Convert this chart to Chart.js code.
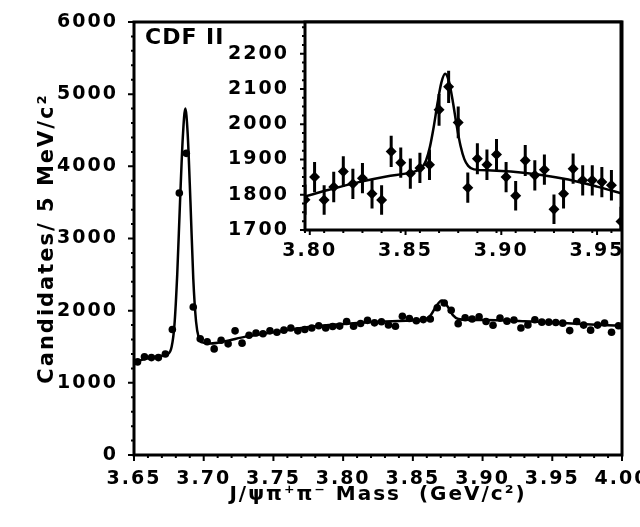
<!DOCTYPE html>
<html><head><meta charset="utf-8">
<script src="https://cdn.jsdelivr.net/npm/chart.js@4/dist/chart.umd.min.js"></script>
<style>
html,body{margin:0;padding:0;background:#fff;}
#wrap{position:relative;width:640px;height:527px;overflow:hidden;background:#fff;}
#wrap canvas{position:absolute;left:0;top:0;}
#cdf{position:absolute;left:145px;top:24px;font:bold 22px "DejaVu Sans";letter-spacing:1px;color:#000;line-height:26px;}
</style></head><body>
<div id="wrap">
<canvas id="mainChart" width="640" height="527"></canvas>
<canvas id="insetChart" width="640" height="527"></canvas>
<div id="cdf">CDF II</div>
</div>
<script>
// ---- main histogram (5 MeV/c^2 bins) ----
const massBins = [3.6525,3.6575,3.6625,3.6675,3.6725,3.6775,3.6825,3.6875,3.6925,3.6975,
  3.7025,3.7075,3.7125,3.7175,3.7225,3.7275,3.7325,3.7375,3.7425,3.7475,
  3.7525,3.7575,3.7625,3.7675,3.7725,3.7775,3.7825,3.7875,3.7925,3.7975,
  3.8025,3.8075,3.8125,3.8175,3.8225,3.8275,3.8325,3.8375,3.8425,3.8475,
  3.8525,3.8575,3.8625,3.8675,3.8725,3.8775,3.8825,3.8875,3.8925,3.8975,
  3.9025,3.9075,3.9125,3.9175,3.9225,3.9275,3.9325,3.9375,3.9425,3.9475,
  3.9525,3.9575,3.9625,3.9675,3.9725,3.9775,3.9825,3.9875,3.9925,3.9975];
const candidates = [1290,1360,1350,1350,1400,1740,3630,4180,2050,1610,
  1570,1470,1590,1540,1720,1550,1660,1690,1680,1720,
  1700,1730,1760,1720,1740,1760,1790,1760,1780,1786,
  1850,1785,1822,1866,1831,1847,1803,1785,1923,1891,
  1860,1876,1885,2041,2106,2005,1820,1902,1885,1914,
  1850,1797,1897,1855,1871,1759,1803,1874,1841,1841,
  1836,1827,1724,1850,1800,1730,1800,1830,1700,1790];
const fitMass = [3.650,3.655,3.660,3.665,3.670,3.674,3.677,3.679,3.681,3.683,3.685,3.6868,3.6885,
  3.6905,3.6925,3.6945,3.6965,3.699,3.705,3.715,3.730,3.750,3.770,3.790,3.810,3.830,3.850,
  3.8587,3.8627,3.8667,3.8707,3.8747,3.8787,3.8827,3.890,3.910,3.930,3.950,3.970,3.985,4.000];
const fitValues = [1280,1315,1340,1360,1375,1395,1500,1800,2500,3500,4400,4800,4450,
  3500,2450,1850,1620,1560,1545,1575,1640,1700,1760,1800,1830,1850,1865,
  1878,1935,2060,2140,2064,1939,1885,1872,1868,1855,1838,1815,1800,1790];

// ---- inset (zoom on X(3872)) ----
const insetMass = [3.7975,3.8025,3.8075,3.8125,3.8175,3.8225,3.8275,3.8325,3.8375,3.8425,
  3.8475,3.8525,3.8575,3.8625,3.8675,3.8725,3.8775,3.8825,3.8875,3.8925,
  3.8975,3.9025,3.9075,3.9125,3.9175,3.9225,3.9275,3.9325,3.9375,3.9425,
  3.9475,3.9525,3.9575,3.9625];
const insetCounts = [1786,1850,1785,1822,1866,1831,1847,1803,1785,1923,
  1891,1860,1876,1885,2041,2106,2005,1820,1902,1885,
  1914,1850,1797,1897,1855,1871,1759,1803,1874,1841,
  1841,1836,1827,1724];
const insetErrors = [43,43,42,43,43,43,43,42,42,44,
  43,43,43,43,45,46,45,43,44,43,
  44,43,42,44,43,43,42,42,43,43,
  43,43,43,42];
const insetFitMass = [3.7975,3.810,3.825,3.840,3.852,3.8557,3.8587,3.8607,3.8627,3.8647,3.8667,
  3.8687,3.8707,3.8727,3.8747,3.8767,3.8787,3.8807,3.8827,3.8857,3.895,3.905,3.920,3.935,3.950,3.9625];
const insetFitValues = [1795,1814,1835,1852,1862,1868,1878,1897,1935,1992,2060,
  2118,2143,2120,2064,1996,1939,1901,1882,1872,1869,1866,1857,1843,1823,1804];

// ---- tick labels ----
const mainXTicks = [3.65,3.70,3.75,3.80,3.85,3.90,3.95,4.00];
const mainXLabels = ['3.65','3.70','3.75','3.80','3.85','3.90','3.95','4.00'];
const mainYTicks = [0,1000,2000,3000,4000,5000,6000];
const mainYLabels = ['0','1000','2000','3000','4000','5000','6000'];
const insetXTicks = [3.80,3.85,3.90,3.95];
const insetXLabels = ['3.80','3.85','3.90','3.95'];
const insetYTicks = [1700,1800,1900,2000,2100,2200];
const insetYLabels = ['1700','1800','1900','2000','2100','2200'];

const FONT = '"DejaVu Sans", "Liberation Sans", sans-serif';
const toXY = (xs, ys) => xs.map((x, i) => ({x: x, y: ys[i]}));
const labelFor = (ticks, labels) => v => {
  const i = ticks.findIndex(t => Math.abs(t - v) < 1e-6);
  return i >= 0 ? labels[i] : '';
};

// wider lettering, like the stretched bold face of the original
const spacing = {
  id: 'spacing',
  beforeDraw(chart) { chart.ctx.letterSpacing = '2px'; }
};

function frameAndTicks(opts) {
  return {
    id: 'frameTicks',
    afterDraw(chart) {
      const {ctx, chartArea: a, scales} = chart;
      const xs = scales.x, ys = scales.y;
      ctx.save();
      ctx.strokeStyle = '#000';
      ctx.lineWidth = 2;
      ctx.beginPath();
      for (let v = xs.min; v <= xs.max + 1e-9; v += opts.xMinor) {
        const px = xs.getPixelForValue(v);
        ctx.moveTo(px, a.bottom); ctx.lineTo(px, a.bottom + opts.minorLen);
      }
      opts.xMajor.forEach(v => {
        const px = xs.getPixelForValue(v);
        ctx.moveTo(px, a.bottom); ctx.lineTo(px, a.bottom + opts.majorLen);
      });
      const y0 = Math.ceil(ys.min / opts.yMinor) * opts.yMinor;
      for (let v = y0; v <= ys.max + 1e-9; v += opts.yMinor) {
        const py = ys.getPixelForValue(v);
        ctx.moveTo(a.left, py); ctx.lineTo(a.left - opts.minorLen, py);
      }
      opts.yMajor.forEach(v => {
        const py = ys.getPixelForValue(v);
        ctx.moveTo(a.left, py); ctx.lineTo(a.left - opts.majorLen, py);
      });
      ctx.stroke();
      ctx.lineWidth = opts.frame;
      ctx.strokeRect(a.left, a.top, a.right - a.left, a.bottom - a.top);
      ctx.restore();
    }
  };
}

const whiteBackground = {
  id: 'whiteBackground',
  beforeDatasetsDraw(chart) {
    const {ctx, chartArea: a} = chart;
    ctx.save(); ctx.fillStyle = '#fff';
    ctx.fillRect(a.left, a.top, a.right - a.left, a.bottom - a.top);
    ctx.restore();
  }
};

const errorBars = {
  id: 'errorBars',
  beforeDatasetsDraw(chart) {
    const {ctx, chartArea: a, scales: {x, y}} = chart;
    ctx.save();
    ctx.beginPath();
    ctx.rect(a.left, a.top, a.right - a.left, a.bottom - a.top);
    ctx.clip();
    ctx.strokeStyle = '#000';
    ctx.lineWidth = 3;
    ctx.beginPath();
    insetMass.forEach((m, i) => {
      const px = x.getPixelForValue(m);
      ctx.moveTo(px, y.getPixelForValue(insetCounts[i] - insetErrors[i]));
      ctx.lineTo(px, y.getPixelForValue(insetCounts[i] + insetErrors[i]));
    });
    ctx.stroke();
    ctx.restore();
  }
};

Chart.defaults.animation = false;
Chart.defaults.events = [];

new Chart(document.getElementById('mainChart'), {
  type: 'scatter',
  data: {
    datasets: [
      {label: 'Data', data: toXY(massBins, candidates), showLine: false,
       pointStyle: 'circle', pointRadius: 3.8, backgroundColor: '#000', borderColor: '#000', borderWidth: 0},
      {label: 'Fit', data: toXY(fitMass, fitValues), showLine: true, pointRadius: 0,
       borderColor: '#000', borderWidth: 2.5, cubicInterpolationMode: 'monotone', fill: false}
    ]
  },
  options: {
    responsive: false,
    devicePixelRatio: 1,
    layout: {padding: {top: 22, right: 18, left: 0, bottom: 0}},
    plugins: {legend: {display: false}, tooltip: {enabled: false}},
    scales: {
      x: {
        type: 'linear', min: 3.65, max: 4.00,
        afterBuildTicks: s => { s.ticks = mainXTicks.map(v => ({value: v})); },
        afterFit: s => { s.height = 72; s.paddingLeft = 0; s.paddingRight = 0; },
        ticks: {callback: labelFor(mainXTicks, mainXLabels),
                font: {family: FONT, size: 19, weight: 'bold'}, color: '#000', padding: 5, maxRotation: 0, autoSkip: false},
        grid: {display: false},
        border: {display: false},
        title: {display: true, text: 'J/ψπ⁺π⁻ Mass  (GeV/c²)', color: '#000',
                font: {family: FONT, size: 20, weight: 'bold'}, padding: {top: 0, bottom: 20}}
      },
      y: {
        type: 'linear', min: 0, max: 6000,
        afterBuildTicks: s => { s.ticks = mainYTicks.map(v => ({value: v})); },
        afterFit: s => { s.width = 134; },
        ticks: {callback: labelFor(mainYTicks, mainYLabels),
                font: {family: FONT, size: 19, weight: 'bold'}, color: '#000', padding: 8},
        grid: {display: false},
        border: {display: false},
        title: {display: true, text: 'Candidates/ 5 MeV/c²', color: '#000',
                font: {family: FONT, size: 21, weight: 'bold'}, padding: {top: 35, bottom: 0}}
      }
    }
  },
  plugins: [spacing, frameAndTicks({xMinor: 0.01, xMajor: mainXTicks, yMinor: 200, yMajor: mainYTicks,
                           minorLen: 3, majorLen: 6, frame: 3})]
});

new Chart(document.getElementById('insetChart'), {
  type: 'scatter',
  data: {
    datasets: [
      {label: 'Data', data: toXY(insetMass, insetCounts), showLine: false,
       pointStyle: 'rectRot', pointRadius: 5.5, backgroundColor: '#000', borderColor: '#000', borderWidth: 0},
      {label: 'Fit', data: toXY(insetFitMass, insetFitValues), showLine: true, pointRadius: 0,
       borderColor: '#000', borderWidth: 2.5, cubicInterpolationMode: 'monotone', fill: false}
    ]
  },
  options: {
    responsive: false,
    devicePixelRatio: 1,
    layout: {padding: {top: 22, right: 19, left: 0, bottom: 0}},
    plugins: {legend: {display: false}, tooltip: {enabled: false}},
    scales: {
      x: {
        type: 'linear', min: 3.7975, max: 3.9625,
        afterBuildTicks: s => { s.ticks = insetXTicks.map(v => ({value: v})); },
        afterFit: s => { s.height = 297; s.paddingLeft = 0; s.paddingRight = 0; },
        ticks: {callback: labelFor(insetXTicks, insetXLabels),
                font: {family: FONT, size: 19, weight: 'bold'}, color: '#000', padding: 2, maxRotation: 0, autoSkip: false},
        grid: {display: false},
        border: {display: false}
      },
      y: {
        type: 'linear', min: 1700, max: 2290,
        afterBuildTicks: s => { s.ticks = insetYTicks.map(v => ({value: v})); },
        afterFit: s => { s.width = 305; },
        ticks: {callback: labelFor(insetYTicks, insetYLabels),
                font: {family: FONT, size: 19, weight: 'bold'}, color: '#000', padding: 8},
        grid: {display: false},
        border: {display: false}
      }
    }
  },
  plugins: [spacing, whiteBackground, errorBars, frameAndTicks({xMinor: 0.01, xMajor: insetXTicks, yMinor: 25, yMajor: insetYTicks,
                           minorLen: 3, majorLen: 5, frame: 3})]
});
</script>
</body></html>
